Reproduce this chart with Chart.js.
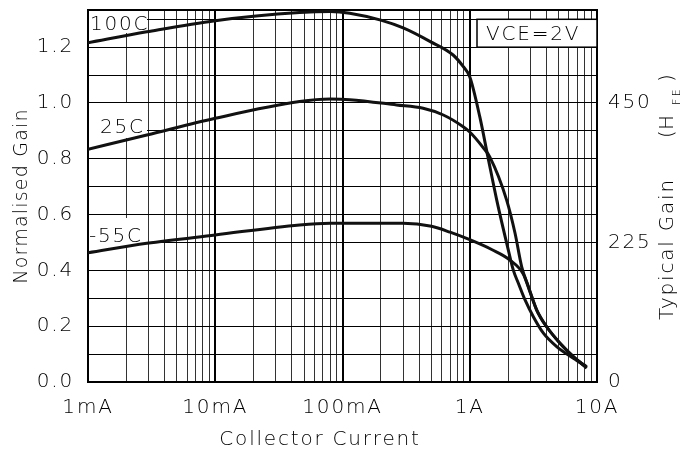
<!DOCTYPE html>
<html>
<head>
<meta charset="utf-8">
<script src="https://cdn.jsdelivr.net/npm/chart.js@4.4.0/dist/chart.umd.min.js"></script>
<style>
  html, body { margin: 0; padding: 0; background: #fff; }
  #wrap { width: 685px; height: 452px; }
</style>
</head>
<body>
<div id="wrap"><canvas id="chart" width="685" height="452"></canvas></div>
<script>
// Gain vs collector current, three temperatures, log current axis.

const FONT = '"DejaVu Sans", sans-serif';
const WEIGHT = 200;
const INK = '#000';
const SPACING = '1.8px';

// collector current (A) and normalised gain
const curr100C = [0.001, 0.0029, 0.01, 0.046, 0.08, 0.114, 0.2, 0.3, 0.49, 0.74, 0.89, 1.0, 1.2, 1.39, 1.63, 2.01, 2.2, 2.41, 2.72, 3.16, 3.79, 4.82, 6.52, 8.3];
const gain100C = [1.216, 1.255, 1.295, 1.324, 1.328, 1.322, 1.297, 1.269, 1.22, 1.172, 1.13, 1.094, 0.95, 0.806, 0.652, 0.473, 0.401, 0.354, 0.294, 0.234, 0.175, 0.127, 0.085, 0.055];

const curr25C = [0.001, 0.0029, 0.01, 0.046, 0.08, 0.114, 0.266, 0.43, 0.62, 0.888, 1.0, 1.265, 1.44, 1.95, 2.27, 2.56, 2.89, 3.36, 4.02, 5.12, 6.52, 8.3];
const gain25C = [0.834, 0.885, 0.945, 1.005, 1.014, 1.012, 0.993, 0.981, 0.957, 0.915, 0.896, 0.842, 0.806, 0.652, 0.533, 0.413, 0.342, 0.258, 0.198, 0.139, 0.091, 0.05];

const currM55C = [0.001, 0.0029, 0.01, 0.046, 0.08, 0.3, 0.5, 0.7, 1.0, 1.5, 2.07, 2.64, 3.0, 3.36, 4.02, 5.12, 6.52, 8.3];
const gainM55C = [0.463, 0.497, 0.527, 0.563, 0.569, 0.569, 0.558, 0.537, 0.51, 0.474, 0.437, 0.386, 0.318, 0.258, 0.198, 0.139, 0.091, 0.052];

// axes
const xDecades = [0.001, 0.01, 0.1, 1, 10];
const xTickLabels = ['1mA', '10mA', '100mA', '1A', '10A'];
const yGridValues = [0, 0.1, 0.2, 0.3, 0.4, 0.5, 0.6, 0.7, 0.8, 0.9, 1.0, 1.1, 1.2, 1.3];
const hfeTicks = [0, 225, 450];
const Y_MAX = 1.3333;      // 600 on the hFE side
const HFE_MAX = 600;

const xGridValues = [];
xDecades.forEach((d, i) => {
  if (i === xDecades.length - 1) { xGridValues.push(d); return; }
  for (let m = 1; m <= 9; m++) xGridValues.push(+(m * d).toPrecision(3));
});

const isDecade = (v) => xDecades.some((d) => Math.abs(d - v) / d < 1e-6);
const pts = (xs, ys) => xs.map((x, i) => ({ x, y: ys[i] }));
const tickFont = { family: FONT, size: 20, weight: WEIGHT };

function setFont(ctx, size, spacing) {
  ctx.font = `${WEIGHT} ${size}px ${FONT}`;
  ctx.letterSpacing = spacing || SPACING;
}

function labelBox(ctx, x0, y0, x1, y1, border) {
  ctx.fillStyle = '#fff';
  ctx.fillRect(x0, y0, x1 - x0, y1 - y0);
  if (border) {
    ctx.strokeStyle = '#000';
    ctx.lineWidth = 1.5;
    ctx.strokeRect(x0, y0, x1 - x0, y1 - y0);
  }
}

function noPad(s) {
  s.paddingTop = 0;
  s.paddingBottom = 0;
  s.paddingLeft = 0;
  s.paddingRight = 0;
}

const decor = {
  id: 'decor',
  beforeDraw(chart) {
    chart.ctx.letterSpacing = SPACING;
  },
  beforeDatasetsDraw(chart) {
    const { ctx, chartArea: a, scales } = chart;
    const y = scales.y;
    ctx.save();
    // frame
    ctx.strokeStyle = '#000';
    ctx.lineWidth = 2;
    ctx.strokeRect(a.left, a.top, a.right - a.left, a.bottom - a.top);

    // curve labels
    labelBox(ctx, a.left + 1, a.top + 1, a.left + 59, a.top + 23);
    labelBox(ctx, a.left + 1, a.top + 93, a.left + 59, a.top + 128);
    labelBox(ctx, a.left + 1, a.top + 208, a.left + 59, a.top + 237);
    const vTop = y.getPixelForValue(1.3), vBot = y.getPixelForValue(1.2);
    labelBox(ctx, a.right - 120, vTop, a.right, vBot, true);

    setFont(ctx, 20);
    ctx.fillStyle = INK;
    ctx.textAlign = 'left';
    ctx.textBaseline = 'alphabetic';
    ctx.fillText('100C', a.left + 2, a.top + 20);
    ctx.fillText('25C', a.left + 12, a.top + 123);
    ctx.fillText('-55C', a.left + 1, a.top + 232);
    ctx.fillText('VCE=2V', a.right - 111, vTop + 21);
    ctx.restore();
  },
  afterDraw(chart) {
    const { ctx } = chart;
    ctx.save();
    ctx.fillStyle = INK;
    ctx.textBaseline = 'alphabetic';
    // bottom title
    setFont(ctx, 20);
    ctx.textAlign = 'center';
    ctx.fillText('Collector Current', 320, 445);
    // left title
    setFont(ctx, 19, '1.2px');
    ctx.save();
    ctx.translate(27, 196);
    ctx.rotate(-Math.PI / 2);
    ctx.fillText('Normalised Gain', 0, 0);
    ctx.restore();
    // right title, written upwards from the bottom
    ctx.save();
    ctx.translate(673, 320);
    ctx.rotate(-Math.PI / 2);
    ctx.textAlign = 'left';
    setFont(ctx, 20);
    ctx.fillText('Typical Gain', 0, 0);
    ctx.fillText('(', 182, 0);
    ctx.fillText('H', 190, 0);
    setFont(ctx, 11, '2.4px');
    ctx.fillText('FE', 215, 7);
    setFont(ctx, 20);
    ctx.fillText(')', 238, 0);
    ctx.restore();
    ctx.restore();
  },
};

const lineStyle = { borderColor: '#111', borderWidth: 3, pointRadius: 0, cubicInterpolationMode: 'monotone', fill: false, yAxisID: 'y' };

new Chart(document.getElementById('chart'), {
  type: 'line',
  data: {
    datasets: [
      { label: '100C', data: pts(curr100C, gain100C), ...lineStyle },
      { label: '25C', data: pts(curr25C, gain25C), ...lineStyle },
      { label: '-55C', data: pts(currM55C, gainM55C), ...lineStyle },
    ],
  },
  options: {
    responsive: false,
    animation: false,
    layout: { padding: { top: 10, left: 0, right: 0, bottom: 0 } },
    plugins: { legend: { display: false }, tooltip: { enabled: false } },
    scales: {
      x: {
        type: 'logarithmic', min: 0.001, max: 10,
        afterBuildTicks: (s) => { s.ticks = xGridValues.map((v) => ({ value: v })); },
        afterFit: (s) => { s.height = 70; noPad(s); },
        ticks: {
          autoSkip: false, maxRotation: 0, padding: 14, color: INK, font: tickFont,
          callback: (v) => {
            const i = xDecades.findIndex((d) => Math.abs(d - v) / d < 1e-6);
            return i < 0 ? '' : xTickLabels[i];
          },
        },
        grid: {
          drawTicks: false,
          color: (c) => (c.tick && isDecade(c.tick.value) ? '#000' : '#333'),
          lineWidth: (c) => (c.tick && isDecade(c.tick.value) ? 2 : 1),
        },
        border: { color: '#000', width: 2 },
      },
      y: {
        type: 'linear', position: 'left', min: 0, max: Y_MAX,
        afterBuildTicks: (s) => { s.ticks = yGridValues.map((v) => ({ value: v })); },
        afterFit: (s) => { s.width = 88; noPad(s); },
        ticks: {
          padding: 14, color: INK, font: tickFont,
          callback: (v) => (Math.round(v * 10) % 2 === 0 ? v.toFixed(1) : ''),
        },
        grid: { drawTicks: false, color: '#000', lineWidth: 1 },
        border: { color: '#000', width: 2 },
      },
      y2: {
        type: 'linear', position: 'right', min: 0, max: HFE_MAX,
        afterBuildTicks: (s) => { s.ticks = hfeTicks.map((v) => ({ value: v })); },
        afterFit: (s) => { s.width = 88; noPad(s); },
        ticks: { padding: 11, color: INK, font: tickFont },
        grid: { display: false, drawTicks: false },
        border: { color: '#000', width: 2 },
      },
    },
  },
  plugins: [decor],
});
</script>
</body>
</html>
